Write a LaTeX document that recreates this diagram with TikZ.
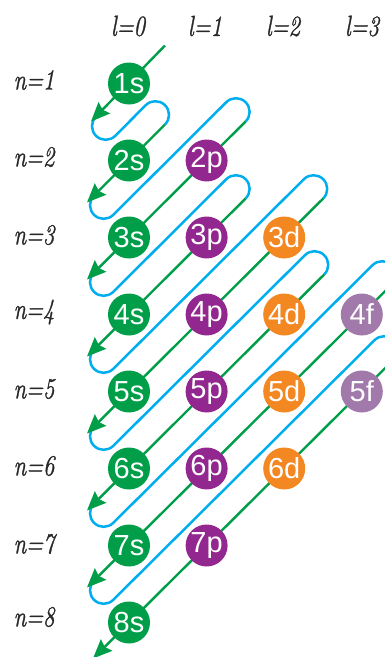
\documentclass[tikz,border=0pt]{standalone}
\usepackage{fontspec}
\newfontfamily\orbfont{Liberation Sans}
\newfontfamily\labfont{Latin Modern Roman}[ItalicFeatures={FakeBold=1.2}]
\usetikzlibrary{calc,arrows.meta}
\definecolor{sgreen}{RGB}{0,158,73}
\definecolor{ppurple}{RGB}{146,39,143}
\definecolor{dorange}{RGB}{243,135,33}
\definecolor{flilac}{RGB}{161,122,171}
\definecolor{lblue}{RGB}{0,174,239}
\definecolor{labgray}{RGB}{40,40,40}
\begin{document}
\begin{tikzpicture}[x=1pt,y=-1pt,
  orb/.style={circle,minimum size=42pt,inner sep=0pt,text=white,font=\orbfont\fontsize{29}{29}\selectfont},
  sorb/.style={orb,fill=sgreen},
  porb/.style={orb,fill=ppurple},
  dorb/.style={orb,fill=dorange},
  forb/.style={orb,fill=flilac},
  gline/.style={sgreen,line width=2.4pt,-{Stealth[length=19pt,width=16pt,inset=2.5pt]}},
  bline/.style={lblue,line width=2.5pt},
  lab/.style={font=\labfont\itshape\fontsize{29}{29}\selectfont,text=labgray,inner sep=0pt}]
\useasboundingbox (0,0) rectangle (385,657);
\clip (0,0) rectangle (385,657);
% orbital centres
\coordinate (c1s) at (129,83.5);
\coordinate (c2s) at (129,160.5);
\coordinate (c2p) at (206.6,160.5);
\coordinate (c3s) at (129,237.5);
\coordinate (c3p) at (206.6,237.5);
\coordinate (c3d) at (284.2,237.5);
\coordinate (c4s) at (129,314.5);
\coordinate (c4p) at (206.6,314.5);
\coordinate (c4d) at (284.2,314.5);
\coordinate (c4f) at (361.8,314.5);
\coordinate (c5s) at (129,391.5);
\coordinate (c5p) at (206.6,391.5);
\coordinate (c5d) at (284.2,391.5);
\coordinate (c5f) at (361.8,391.5);
\coordinate (c6s) at (129,468.5);
\coordinate (c6p) at (206.6,468.5);
\coordinate (c6d) at (284.2,468.5);
\coordinate (c7s) at (129,545.5);
\coordinate (c7p) at (206.6,545.5);
\coordinate (c8s) at (129,622.5);
% starts of the diagonals
\coordinate (S1) at ($(c1s)+(36,-38)$);
\coordinate (S2) at ($(c2s)+(36,-36)$);
\coordinate (S3) at ($(c2p)+(39,-39)$);
\coordinate (S4) at ($(c3p)+(39,-39)$);
\coordinate (S5) at ($(c3d)+(39,-39)$);
\coordinate (S6) at ($(c4d)+(40,-40)$);
\coordinate (S7) at ($(c4f)+(30,-30)$);
\coordinate (S8) at ($(c5f)+(32,-32)$);
% blue turns
\coordinate (B1) at ($(c1s)+(-33,33)$);
\coordinate (B2) at ($(c2s)+(-35,35)$);
\coordinate (B3) at ($(c3s)+(-35,35)$);
\coordinate (B4) at ($(c4s)+(-35,35)$);
\coordinate (B5) at ($(c5s)+(-35,35)$);
\coordinate (B6) at ($(c6s)+(-35,35)$);
\coordinate (B7) at ($(c7s)+(-35,35)$);
\foreach \k/\j in {1/2,2/3,3/4,4/5,5/6,6/7,7/8}{
  \draw[bline] (B\k) arc[start angle=225,end angle=45,radius=13.65]
     -- ($(S\j)+(-19.3,-19.3)$) arc[start angle=225,end angle=405,radius=13.65];
}
% arrow tips
\coordinate (A1) at ($(c1s)+(-38,38)$);
\coordinate (A2) at ($(c2s)+(-42,42)$);
\coordinate (A3) at ($(c3s)+(-42,42)$);
\coordinate (A4) at ($(c4s)+(-42,42)$);
\coordinate (A5) at ($(c5s)+(-42,42)$);
\coordinate (A6) at ($(c6s)+(-42,42)$);
\coordinate (A7) at ($(c7s)+(-42,42)$);
\coordinate (A8) at ($(c8s)+(-36,36)$);
\foreach \k in {1,...,8}{
  \draw[gline] (S\k) -- (A\k);
}
% orbitals
\node[sorb] (o1s) at (c1s) {1s};
\node[sorb] (o2s) at (c2s) {2s};
\node[porb] (o2p) at (c2p) {2p};
\node[sorb] (o3s) at (c3s) {3s};
\node[porb] (o3p) at (c3p) {3p};
\node[dorb] (o3d) at (c3d) {3d};
\node[sorb] (o4s) at (c4s) {4s};
\node[porb] (o4p) at (c4p) {4p};
\node[dorb] (o4d) at (c4d) {4d};
\node[forb] (o4f) at (c4f) {4f};
\node[sorb] (o5s) at (c5s) {5s};
\node[porb] (o5p) at (c5p) {5p};
\node[dorb] (o5d) at (c5d) {5d};
\node[forb] (o5f) at (c5f) {5f};
\node[sorb] (o6s) at (c6s) {6s};
\node[porb] (o6p) at (c6p) {6p};
\node[dorb] (o6d) at (c6d) {6d};
\node[sorb] (o7s) at (c7s) {7s};
\node[porb] (o7p) at (c7p) {7p};
\node[sorb] (o8s) at (c8s) {8s};
% labels
\node[lab] (l0) at (128,26) {\scalebox{0.78}[1]{l=0}};
\node[lab] (l1) at (205,26) {\scalebox{0.78}[1]{l=1}};
\node[lab] (l2) at (283,26) {\scalebox{0.78}[1]{l=2}};
\node[lab] (l3) at (362,26) {\scalebox{0.78}[1]{l=3}};
\node[lab] (n1) at (34,80) {\scalebox{0.78}[1]{n=1}};
\node[lab] (n2) at (34,157) {\scalebox{0.78}[1]{n=2}};
\node[lab] (n3) at (34,235) {\scalebox{0.78}[1]{n=3}};
\node[lab] (n4) at (34,312) {\scalebox{0.78}[1]{n=4}};
\node[lab] (n5) at (34,389) {\scalebox{0.78}[1]{n=5}};
\node[lab] (n6) at (34,466) {\scalebox{0.78}[1]{n=6}};
\node[lab] (n7) at (34,544) {\scalebox{0.78}[1]{n=7}};
\node[lab] (n8) at (34,617) {\scalebox{0.78}[1]{n=8}};
\end{tikzpicture}
\end{document}
